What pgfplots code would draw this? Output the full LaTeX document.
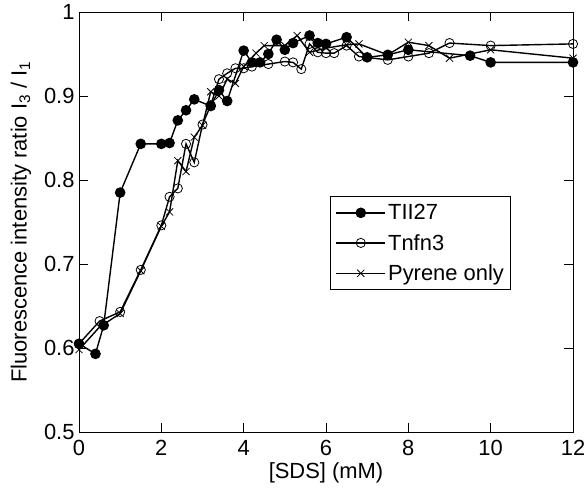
\documentclass[border=0pt]{standalone}
\usepackage{fontspec}
\setmainfont{Liberation Sans}
\usepackage{pgfplots}
\usetikzlibrary{calc}
\pgfplotsset{compat=1.18}
\begin{document}
\begin{tikzpicture}
\begin{axis}[
  scale only axis, width=494bp, height=420bp,
  xmin=0, xmax=12, ymin=0.5, ymax=1,
  xtick={0,2,4,6,8,10,12},
  ytick={0.5,0.6,0.7,0.8,0.9,1},
  /pgf/number format/assume math mode=true,
  /pgf/number format/fixed,
  tick align=inside, major tick length=9bp,
  every tick/.style={black, line width=0.8pt},
  axis line style={line width=0.8pt},
  tick label style={font=\fontsize{22}{26}\selectfont},
  label style={font=\fontsize{22}{26}\selectfont},
  yticklabel style={xshift=-1bp},
  xticklabel style={yshift=-5bp},
  xlabel={[SDS] (mM)},
  xlabel style={yshift=0bp},
  ylabel={Fluorescence intensity ratio I\textsubscript{3} / I\textsubscript{1}},
  ylabel style={yshift=6bp},
  legend style={at={(0.508,0.562)}, anchor=north west, draw=black, line width=1pt,
    font=\fontsize{22}{26}\selectfont, row sep=9bp, inner xsep=5bp, inner ysep=6bp},
  legend cell align=left,
  legend image code/.code={\draw[mark repeat=2,mark phase=2,#1] plot coordinates {(0cm,0cm) (0.87cm,0cm) (1.74cm,0cm)};},
]
\coordinate (sw) at (rel axis cs:0,0);
\coordinate (ne) at (rel axis cs:1,1);
\addplot[black, line width=1.4pt, mark=*, mark size=4.6bp] coordinates {
(0,0.605) (0.4,0.593) (0.6,0.627) (1.0,0.785) (1.5,0.843) (2.0,0.843) (2.2,0.844)
(2.4,0.871) (2.6,0.883) (2.8,0.896) (3.2,0.888) (3.4,0.907) (3.6,0.894) (4.0,0.954)
(4.2,0.940) (4.4,0.940) (4.6,0.950) (4.8,0.967) (5.0,0.955) (5.2,0.963) (5.6,0.972)
(5.8,0.963) (6.0,0.962) (6.5,0.970) (7.0,0.946) (7.5,0.949) (8.0,0.955) (9.5,0.948)
(10,0.940) (12,0.940)};
\addlegendentry{TII27}
\addplot[black, line width=1.4pt, mark=o, mark size=4.6bp, mark options={line width=0.8pt}] coordinates {
(0,0.605) (0.5,0.632) (1.0,0.643) (1.5,0.693) (2.0,0.746) (2.2,0.780) (2.4,0.790)
(2.6,0.843) (2.8,0.821) (3.0,0.866) (3.2,0.889) (3.4,0.920) (3.6,0.927) (3.8,0.933)
(4.0,0.933) (4.2,0.935) (4.6,0.938) (5.0,0.941) (5.2,0.940) (5.4,0.932) (5.6,0.962)
(5.8,0.952) (6.0,0.951) (6.2,0.951) (6.5,0.960) (6.8,0.947) (7.5,0.943) (8.0,0.947)
(8.5,0.951) (9.0,0.963) (10,0.960) (12,0.962)};
\addlegendentry{Tnfn3}
\addplot[black, line width=1.4pt, mark=x, mark size=5bp, mark options={line width=0.8pt}] coordinates {
(0,0.598) (0.5,0.625) (1.0,0.641) (1.5,0.692) (2.0,0.745) (2.2,0.762) (2.4,0.823)
(2.6,0.810) (2.8,0.851) (3.0,0.865) (3.2,0.905) (3.4,0.900) (3.6,0.920) (3.8,0.915)
(4.0,0.935) (4.3,0.951) (4.5,0.960) (5.0,0.960) (5.3,0.972) (5.6,0.952) (6.0,0.957)
(6.5,0.961) (6.8,0.962) (7.5,0.949) (8.0,0.964) (8.5,0.960) (9.0,0.945) (10,0.955)
(12,0.945)};
\addlegendentry{Pyrene only}
\end{axis}
\pgfresetboundingbox
\path[use as bounding box] ($(sw)+(-79bp,-57bp)$) rectangle ($(ne)+(11bp,12bp)$);
\end{tikzpicture}
\end{document}
